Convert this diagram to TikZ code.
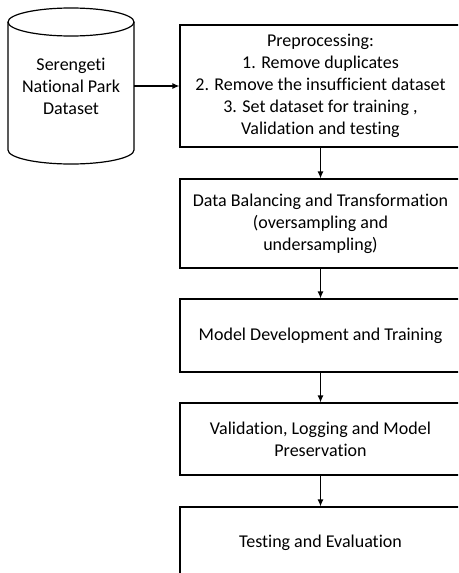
\documentclass[tikz,border=0pt]{standalone}
\usepackage{fontspec}
\setmainfont{Carlito}[RawFeature={-liga}]
\usetikzlibrary{arrows.meta}
\tikzset{
  stepbox/.style={draw=black, line width=1.2pt, rectangle, inner sep=0pt, align=center,
    minimum width=281pt, font=\fontsize{18}{22}\selectfont},
  arr/.style={draw=black, line width=1.2pt, -{Latex[length=7pt,width=6pt]}},
  txt/.style={inner sep=0pt, align=center, font=\fontsize{18}{22}\selectfont}
}
\begin{document}
\begin{tikzpicture}[x=1pt,y=-1pt]
\clip (0,0) rectangle (458,573);
\fill[white] (0,0) rectangle (458,573);
% cylinder
\draw[line width=1.2pt] (8,22) -- (8,150) arc (180:0:63 and 14) -- (134,22);
\draw[line width=1.2pt] (71,22) ellipse (63 and 14);
\node[txt, minimum width=126pt, minimum height=100pt] (db) at (71,86) {Serengeti\\National Park\\Dataset};
% boxes
\node[stepbox, minimum height=122pt] (p1) at (320.5,86) {Preprocessing:\\1. Remove duplicates\\2. Remove the insufficient dataset\\3. Set dataset for training ,\\Validation and testing};
\node[stepbox, minimum height=89pt] (p2) at (320.5,223.5) {Data Balancing and Transformation\\(oversampling and\\undersampling)};
\node[stepbox, minimum height=73pt] (p3) at (320.5,335.5) {Model Development and Training};
\node[stepbox, minimum height=72pt] (p4) at (320.5,439) {Validation, Logging and Model\\Preservation};
\node[stepbox, minimum height=72pt] (p5) at (320.5,543) {Testing and Evaluation};
% arrows
\draw[arr] (db.east) -- (p1.west);
\draw[arr] (p1.south) -- (p2.north);
\draw[arr] (p2.south) -- (p3.north);
\draw[arr] (p3.south) -- (p4.north);
\draw[arr] (p4.south) -- (p5.north);
\end{tikzpicture}
\end{document}
